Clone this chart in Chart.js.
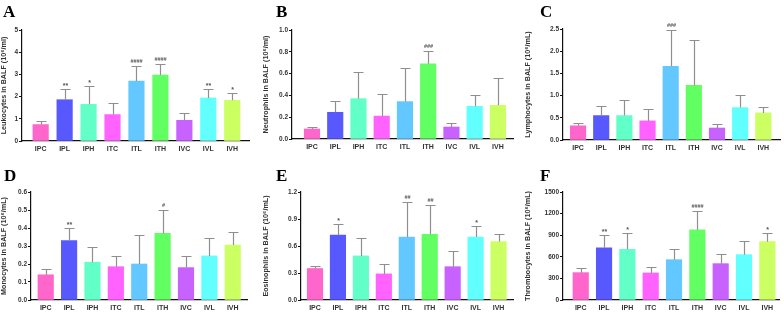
<!DOCTYPE html>
<html><head><meta charset="utf-8">
<script src="https://cdn.jsdelivr.net/npm/chart.js@4.4.1/dist/chart.umd.min.js"></script>
<style>
html,body{margin:0;padding:0;background:#fff}
body{width:784px;height:313px;overflow:hidden;position:relative}
.panel{position:absolute}
.letter{position:absolute;font:bold 17px "Liberation Serif","Times New Roman",serif;color:#000;line-height:1}
</style></head><body>
<script>
// ---------- DATA ----------
const groups = ['IPC','IPL','IPH','ITC','ITL','ITH','IVC','IVL','IVH'];

const leukocytes      = [0.74,1.86,1.65,1.19,2.70,2.97,0.93,1.94,1.83];
const leukocytesUpper = [0.89,2.32,2.49,1.71,3.38,3.49,1.26,2.33,2.16];
const leukocytesSig   = ['','**','*','','####','####','','**','*'];

const neutrophils      = [0.092,0.245,0.37,0.21,0.343,0.69,0.11,0.30,0.309];
const neutrophilsUpper = [0.11,0.345,0.615,0.416,0.648,0.807,0.15,0.407,0.56];
const neutrophilsSig   = ['','','','','','###','','',''];

const lymphocytes      = [0.32,0.55,0.55,0.43,1.66,1.23,0.27,0.73,0.61];
const lymphocytesUpper = [0.38,0.76,0.91,0.70,2.47,2.26,0.35,1.02,0.74];
const lymphocytesSig   = ['','','','','###','','','',''];

const monocytes      = [0.14,0.33,0.21,0.185,0.20,0.37,0.18,0.245,0.305];
const monocytesUpper = [0.17,0.40,0.295,0.243,0.36,0.50,0.245,0.345,0.378];
const monocytesSig   = ['','**','','','','#','','',''];

const eosinophils      = [0.35,0.72,0.49,0.29,0.70,0.73,0.37,0.70,0.65];
const eosinophilsUpper = [0.38,0.85,0.69,0.40,1.09,1.05,0.54,0.82,0.735];
const eosinophilsSig   = ['','*','','','##','##','','*',''];

const thrombocytes      = [380,725,705,375,560,975,505,630,810];
const thrombocytesUpper = [450,905,935,465,705,1240,645,820,935];
const thrombocytesSig   = ['','**','*','','','####','','','*'];

const yTicksA = [0,1,2,3,4,5];
const yTicksB = [0,0.2,0.4,0.6,0.8,1.0];
const yTicksC = [0,0.5,1.0,1.5,2.0,2.5];
const yTicksD = [0,0.1,0.2,0.3,0.4,0.5,0.6];
const yTicksE = [0,0.3,0.6,0.9,1.2];
const yTicksF = [0,300,600,900,1200,1500];

// ---------- STYLE ----------
const palette = ['#ff66cc','#5858ff','#62ffc8','#ff62ff','#62c8ff','#62ff62','#c862ff','#62ffff','#ccff62'];
const FONT = '"Liberation Sans", Arial, sans-serif';

const panels = [
  {letter:'A', lx:3,   ly:3,   box:[0,0,262,156],     area:[22,30,249,141],   xr:[-0.78,8.7],
   title:'Leukocytes in BALF (10\u2076/ml)', vals:leukocytes, up:leukocytesUpper, sig:leukocytesSig, ticks:yTicksA, dec:0},
  {letter:'B', lx:276, ly:3,   box:[262,0,262,156],   area:[292,30,513,139],  xr:[-0.86,8.65],
   title:'Neutrophils in BALF (10\u2076/ml)', vals:neutrophils, up:neutrophilsUpper, sig:neutrophilsSig, ticks:yTicksB, dec:1},
  {letter:'C', lx:540, ly:3,   box:[524,0,260,156],   area:[563,29,780,140],  xr:[-0.65,8.72],
   title:'Lymphocytes in BALF (10\u2076/mL)', vals:lymphocytes, up:lymphocytesUpper, sig:lymphocytesSig, ticks:yTicksC, dec:1},
  {letter:'D', lx:4,   ly:167, box:[0,156,262,157],   area:[31,192,247,300],  xr:[-0.63,8.61],
   title:'Monocytes in BALF (10\u2076/mL)', vals:monocytes, up:monocytesUpper, sig:monocytesSig, ticks:yTicksD, dec:1},
  {letter:'E', lx:276, ly:167, box:[262,156,262,157], area:[301,192,513,300], xr:[-0.61,8.63],
   title:'Eosinophils in BALF (10\u2076/mL)', vals:eosinophils, up:eosinophilsUpper, sig:eosinophilsSig, ticks:yTicksE, dec:1},
  {letter:'F', lx:540, ly:167, box:[524,156,260,157], area:[563,192,779,300], xr:[-0.76,8.5],
   title:'Thrombocytes in BALF (10\u2076/mL)', vals:thrombocytes, up:thrombocytesUpper, sig:thrombocytesSig, ticks:yTicksF, dec:0},
];

const errorPlugin = {
  id:'errbars',
  afterDatasetsDraw(chart, args, opts){
    const {ctx, scales:{x,y}} = chart;
    const p = opts.panel;
    ctx.save();
    ctx.strokeStyle = '#8f8f8f';
    ctx.lineWidth = 1.2;
    p.vals.forEach((v,i)=>{
      const px = Math.round(x.getPixelForValue(i))+0.5;
      const yb = y.getPixelForValue(v);
      const yt = Math.round(y.getPixelForValue(p.up[i]))+0.5;
      ctx.beginPath();
      ctx.moveTo(px,yb); ctx.lineTo(px,yt);
      ctx.moveTo(px-5,yt); ctx.lineTo(px+5,yt);
      ctx.stroke();
      if (p.sig[i]) {
        ctx.fillStyle = '#555';
        const isHash = p.sig[i].indexOf('#')>=0;
        ctx.font = (isHash ? 'bold 5.5px ' : 'bold 7px ') + FONT;
        ctx.textAlign = 'center';
        ctx.textBaseline = 'alphabetic';
        ctx.fillText(p.sig[i], px, yt - (isHash ? 4 : 2));
      }
    });
    ctx.restore();
  }
};

panels.forEach((p)=>{
  const [bx,by,bw,bh] = p.box;
  const [al,at,ar,ab] = p.area;
  const c = document.createElement('canvas');
  c.className='panel';
  c.style.left=bx+'px'; c.style.top=by+'px';
  c.style.width=bw+'px'; c.style.height=bh+'px';
  c.width=bw; c.height=bh;
  document.body.appendChild(c);
  const L = document.createElement('div');
  L.className='letter'; L.textContent=p.letter;
  L.style.left=p.lx+'px'; L.style.top=p.ly+'px';
  document.body.appendChild(L);

  new Chart(c, {
    type:'bar',
    data:{
      datasets:[{
        data: p.vals.map((v,i)=>({x:i,y:v})),
        backgroundColor: palette,
        borderWidth:0,
        barThickness:15.5
      }]
    },
    plugins:[errorPlugin],
    options:{
      responsive:false, animation:false, devicePixelRatio:1,
      layout:{padding:{left:0,bottom:0,top:at-by,right:(bx+bw)-ar}},
      plugins:{legend:{display:false},tooltip:{enabled:false},errbars:{panel:p}},
      scales:{
        x:{
          type:'linear', min:p.xr[0], max:p.xr[1], offset:false,
          grid:{display:false,drawTicks:false,tickLength:0},
          border:{display:true,color:'#111',width:1.2},
          afterBuildTicks(s){ s.ticks = groups.map((g,i)=>({value:i})); },
          afterFit(s){ s.height = (by+bh)-ab; },
          ticks:{
            autoSkip:false, maxRotation:0, minRotation:0, padding:4,
            color:'#333', font:{family:FONT,size:7,weight:'bold'},
            callback:(v)=>groups[v]
          }
        },
        y:{
          min:p.ticks[0], max:p.ticks[p.ticks.length-1],
          afterBuildTicks(s){ s.ticks = p.ticks.map(v=>({value:v})); },
          afterFit(s){ s.width = al-bx; },
          grid:{display:true,drawOnChartArea:false,drawTicks:true,tickLength:3,color:'#111',lineWidth:1},
          border:{display:true,color:'#111',width:1.2},
          ticks:{
            padding:1, color:'#333', font:{family:FONT,size:6.5,weight:'bold'},
            callback:(v)=>Number(v).toFixed(p.dec)
          },
          title:{display:true,text:p.title,color:'#333',padding:{top:0,bottom:0},
                 font:{family:FONT,size:7.2,weight:'bold'}}
        }
      }
    }
  });
});
</script>
</body></html>
